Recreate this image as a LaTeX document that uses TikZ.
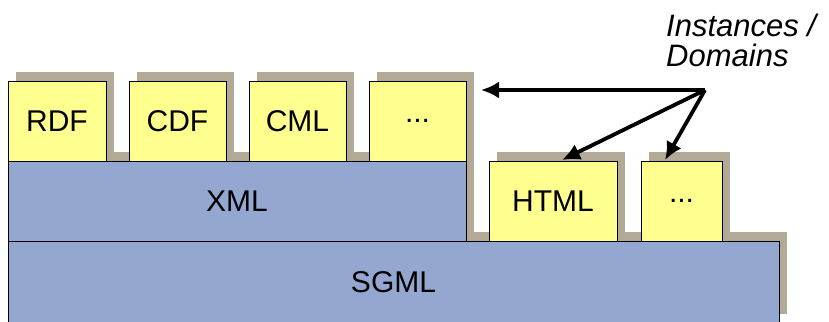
\documentclass[tikz,border=0pt]{standalone}
\usepackage{fontspec}
\setmainfont{Liberation Sans}
\usetikzlibrary{arrows.meta,%
                shadows}
\definecolor{layeryellow}{RGB}{255,255,143}
\definecolor{layerblue}{RGB}{148,167,208}
\definecolor{layershade}{RGB}{178,170,150}

\tikzset{layer/.style={draw=black, line width=0.8pt, inner sep=0pt,
           minimum height=80pt,
           general shadow={fill=layershade, shadow xshift=8pt, shadow yshift=9pt},
           font=\fontsize{30}{36}\selectfont},
         lang/.style={layer, fill=layeryellow},
         base/.style={layer, fill=layerblue},
         pointer/.style={line width=3.8pt, -{Latex[length=18pt,width=17pt]}}}

\begin{document}
\begin{tikzpicture}[x=1pt, y=-1pt]

\useasboundingbox (0,0) rectangle (829,321);

\node[base, minimum width=771pt, minimum height=82pt] (SGML) at (393.5,282) {SGML};
\node[base, minimum width=458pt] (XML) at (237,201) {XML};

\node[lang, minimum width=128pt] (HTML) at (553,201) {HTML};
\node[lang, minimum width=81pt] (HTMLmore) at (681.5,201) {...};

\node[lang, minimum width=98pt] (RDF) at (57,121) {RDF};
\node[lang, minimum width=97pt] (CDF) at (177.5,121) {CDF};
\node[lang, minimum width=97pt] (CML) at (297.5,121) {CML};
\node[lang, minimum width=97pt] (XMLmore) at (417.5,121) {...};

\node[anchor=north west, align=left, inner sep=0pt,
      font=\fontsize{31}{30}\selectfont\itshape] (domains) at (666,14)
      {Instances /\\Domains};

\coordinate (hub) at (705,90);
\coordinate (XMLside) at (481,90);

\draw[pointer] (hub) -- (XMLside);
\draw[pointer] (hub) -- (562,160);
\draw[pointer] (hub) -- (665,160);

\end{tikzpicture}
\end{document}
